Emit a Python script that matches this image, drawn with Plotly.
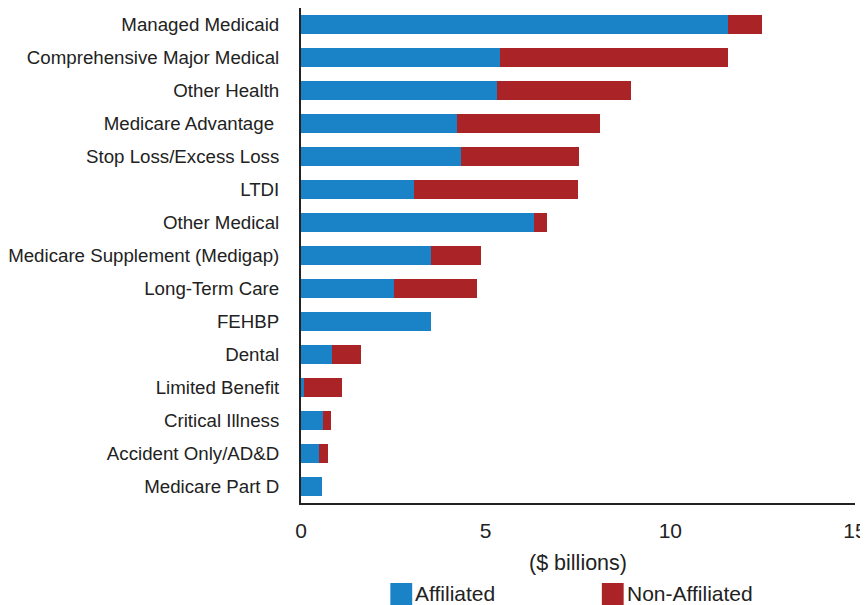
import plotly.graph_objects as go

categories = ["Managed Medicaid", "Comprehensive Major Medical", "Other Health",
              "Medicare Advantage ", "Stop Loss/Excess Loss", "LTDI", "Other Medical",
              "Medicare Supplement (Medigap)", "Long-Term Care", "FEHBP", "Dental",
              "Limited Benefit", "Critical Illness", "Accident Only/AD&D", "Medicare Part D"]
affiliated = [11.55, 5.40, 5.31, 4.23, 4.33, 3.05, 6.30, 3.51, 2.52, 3.53, 0.84, 0.09, 0.60, 0.50, 0.56]
totals = [12.49, 11.57, 8.93, 8.10, 7.53, 7.49, 6.65, 4.87, 4.76, 3.53, 1.62, 1.10, 0.81, 0.74, 0.56]
non_affiliated = [round(t - a, 2) for t, a in zip(totals, affiliated)]
x_ticks = [0, 5, 10, 15]
series_names = ["Affiliated", "Non-Affiliated"]
series_colors = ["#1a82c6", "#aa2326"]

font = "Liberation Sans, Arial, sans-serif"

fig = go.Figure()
for name, vals, col in zip(series_names, [affiliated, non_affiliated], series_colors):
    fig.add_trace(go.Bar(y=categories, x=vals, orientation="h", name=name,
                         marker=dict(color=col, line=dict(width=0)), showlegend=False))

# manual legend (figure-pixel positions converted to paper coords)
W, H = 860, 597
L, R, T, B = 289, 13, 0, 102
pw, ph = W - L - R, H - T - B
def px(x):
    return (x - L) / pw
def py(y):
    return (H - B - y) / ph

leg_x = [379, 592]
for lx, name, col in zip(leg_x, series_names, series_colors):
    fig.add_shape(type="rect", xref="paper", yref="paper",
                  x0=px(lx), x1=px(lx + 22), y0=py(597), y1=py(575),
                  fillcolor=col, line=dict(width=0))
    fig.add_annotation(xref="paper", yref="paper", x=px(lx + 24), y=py(585),
                       xanchor="left", yanchor="middle", text=name, showarrow=False,
                       font=dict(size=21, color="#222222"), borderpad=0)

fig.update_layout(
    width=W, height=H, autosize=False,
    barmode="stack", bargap=0.4,
    plot_bgcolor="white", paper_bgcolor="white",
    margin=dict(l=L, r=R, t=T, b=B),
    font=dict(family=font, size=18.7, color="#222222"),
    showlegend=False,
    xaxis=dict(range=[0, 15], tickvals=x_ticks, showgrid=False, zeroline=False,
               showline=True, linecolor="#222222", linewidth=2, ticks="",
               tickfont=dict(size=21), ticklabelstandoff=8,
               title=dict(text="($ billions)", font=dict(size=21.5), standoff=14)),
    yaxis=dict(autorange="reversed", showgrid=False, showline=True, linecolor="#222222",
               linewidth=2, ticks="", ticklabelstandoff=16),
)

fig.write_html("out.html",
               config={"displayModeBar": False, "responsive": False},
               post_script="document.documentElement.style.overflow='hidden';document.body.style.overflow='hidden';")
